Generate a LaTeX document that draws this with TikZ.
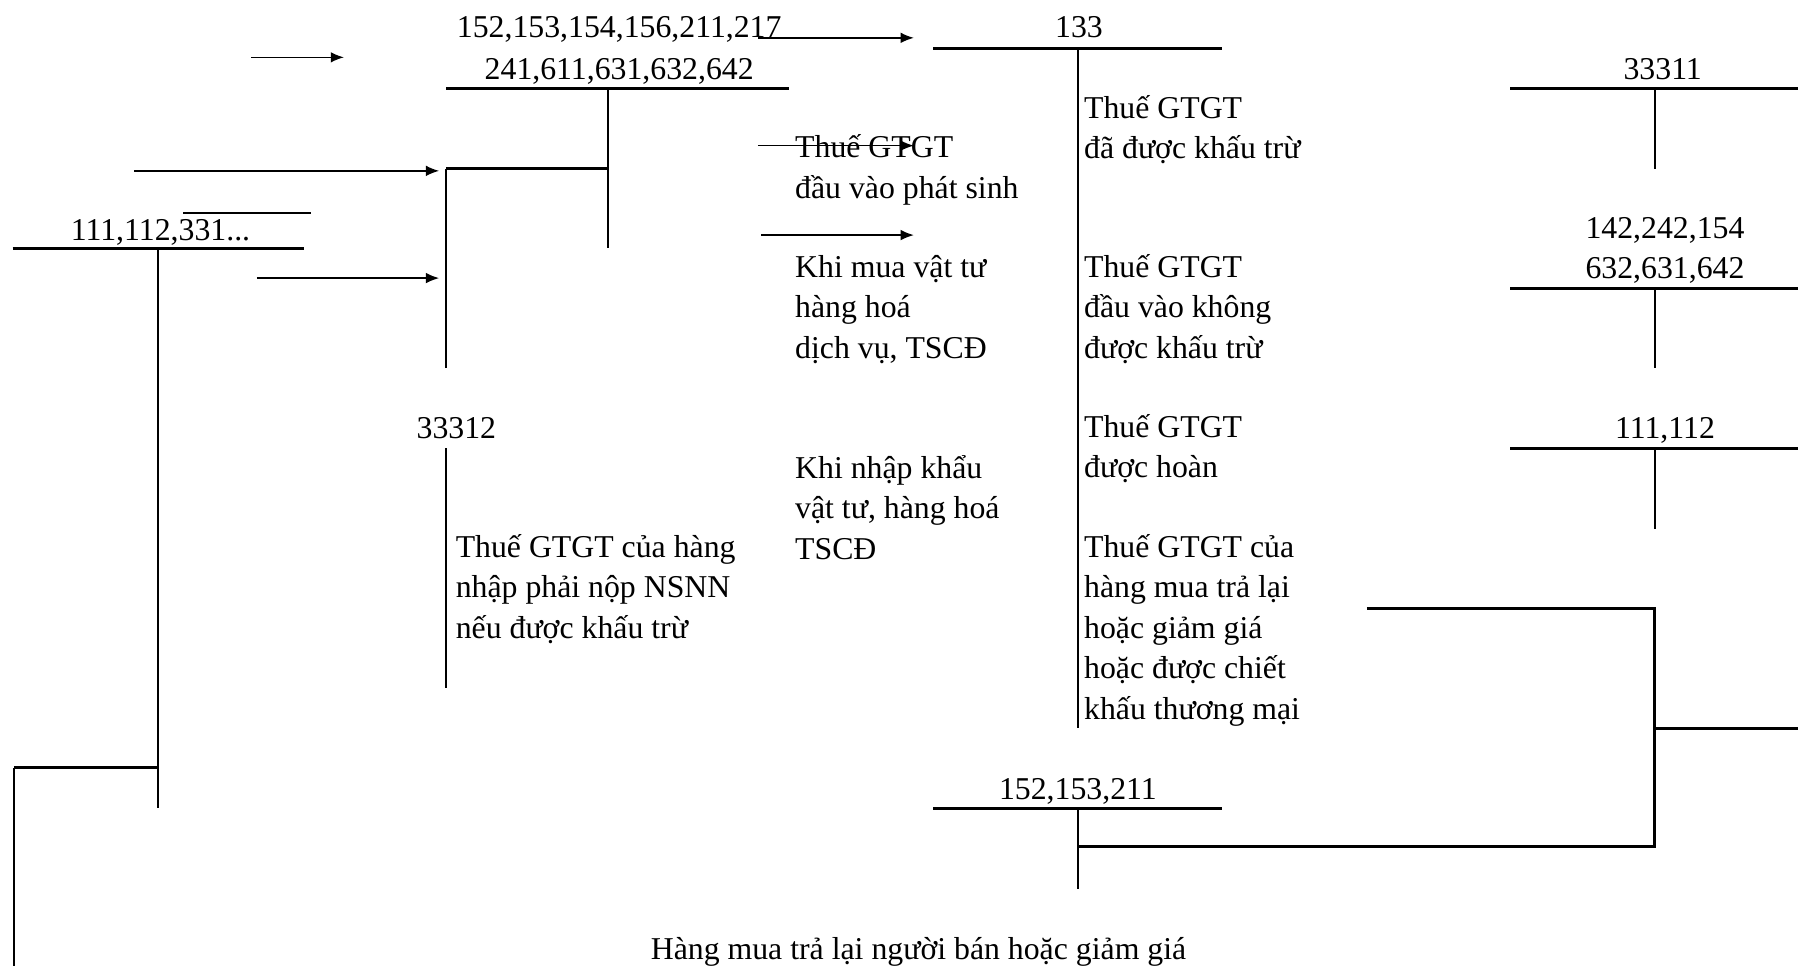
\documentclass[tikz,border=0pt]{standalone}
\usepackage{fontspec}
\setmainfont{Liberation Serif}
\usetikzlibrary{arrows.meta}

\begin{document}
\begin{tikzpicture}[x=.4329pt, y=-.4329pt,
    txt/.style={font=\fontsize{12pt}{15.3pt}\selectfont, inner sep=0pt},
    acct/.style={txt, anchor=base},
    note/.style={txt, align=left, anchor=base west},
    bar/.style={line width=1.2pt},
    stem/.style={line width=.8pt},
    arrow/.style={-{Latex[length=5pt, width=4pt]}, line width=.6pt},
]
    \useasboundingbox (0, 0) rectangle (1568, 842);

    %% account names above the T's
    \foreach \name/\x/\y/\label in {a152/540/33/{152,153,154,156,211,217},
            a241/540/69/{241,611,631,632,642}, a133/941/33/133,
            a33311/1450/69/33311, a142/1452/208/{142,242,154},
            a632/1452/243/{632,631,642}, a111l/140/210/{111,112,331...},
            a33312/398/382/33312, a111r/1452/382/{111,112},
            a152b/940/697/{152,153,211}}{
        \node[acct] (\name) at (\x, \y) {\label};
    }

    %% the T's: top bar from l to r at y, stem at s down to b
    \foreach \l/\r/\s/\y/\b in {389/688/530/77/216, 814/1066/940/42/635,
            1317/1568/1443/77/147, 1317/1568/1443/251.5/321,
            1317/1568/1443/391/461, 11/265/138/216.5/705,
            814/1066/940/705/775}{
        \draw[bar] (\l, \y) -- (\r, \y);
        \draw[stem] (\s, \y) -- (\s, \b);
    }
    \draw[stem] (389, 391) -- (389, 600);

    %% links between the T's
    \draw[stem] (389, 321) -- (389, 147);
    \draw[bar] (389, 147) -- (530, 147);
    \draw[stem] (12, 842) -- (12, 669.5);
    \draw[bar] (12, 669.5) -- (138, 669.5);
    \draw[bar] (1192, 530.5) -- (1443, 530.5) -- (1443, 738) -- (940, 738);
    \draw[bar] (1443, 635) -- (1568, 635);
    \draw[stem] (160, 186) -- (271, 186);

    %% arrows
    \foreach \a/\b/\y in {219/300/50, 661/797/33, 117/383/149,
            224/383/242.5, 661/797/127, 664/797/205}{
        \draw[arrow] (\a, \y) -- (\b, \y);
    }

    %% what each entry is (y is the baseline of the last line)
    \node[note] (n-phatsinh) at (693, 173) {Thuế GTGT\\đầu vào phát sinh};
    \node[note] (n-mua) at (693, 312.6) {Khi mua vật tư\\hàng hoá\\dịch vụ, TSCĐ};
    \node[note] (n-nhap) at (693, 487.6) {Khi nhập khẩu\\vật tư, hàng hoá\\TSCĐ};
    \node[note] (n-nsnn) at (397, 556.6)
        {Thuế GTGT của hàng\\nhập phải nộp NSNN\\nếu được khấu trừ};
    \node[note] (n-khautru) at (945, 138.3) {Thuế GTGT\\đã được khấu trừ};
    \node[note] (n-khong) at (945, 312.6)
        {Thuế GTGT\\đầu vào không\\được khấu trừ};
    \node[note] (n-hoan) at (945, 416.8) {Thuế GTGT\\được hoàn};
    \node[note] (n-tralai) at (945, 627.2) {Thuế GTGT của\\hàng mua trả lại\\hoặc giảm giá\\hoặc được chiết\\khấu thương mại};
    \node[acct] (n-giamgia) at (801, 837)
        {Hàng mua trả lại người bán hoặc giảm giá};
\end{tikzpicture}
\end{document}
